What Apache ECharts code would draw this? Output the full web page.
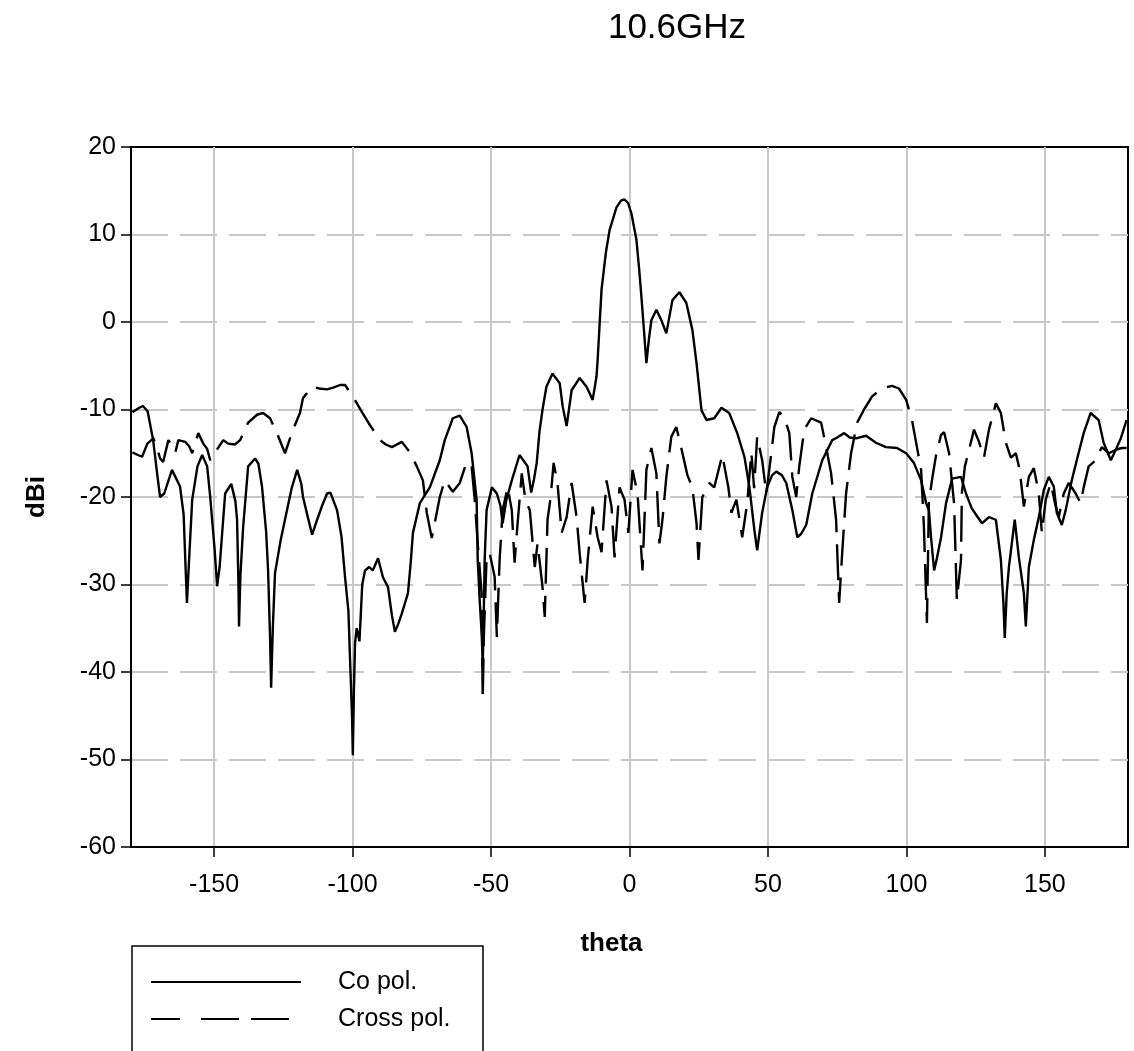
<!DOCTYPE html>
<html>
<head>
<meta charset="utf-8">
<script src="https://cdn.jsdelivr.net/npm/echarts@6/dist/echarts.min.js"></script>
<style>
html,body{margin:0;padding:0;background:#fff;}
#chart{width:1134px;height:1051px;}
</style>
</head>
<body>
<div id="chart"></div>
<script>
// ---- data ----
var xTicks = [-150, -100, -50, 0, 50, 100, 150];

var coTheta = [-179.5,-177,-175.7,-174,-172,-170.5,-169.5,-168,-165.2,-162.3,-161,-160.3,-159.8,-159,-157.9,-156,-154.3,-152.5,-151.4,-149.8,-148.9,-148,-146,-143.8,-142.3,-141.7,-141.2,-141,-140.5,-139.5,-137.7,-135.2,-134,-132.7,-131.2,-130.5,-129.8,-129.4,-128.8,-128,-126,-124.4,-122,-120,-118.5,-117.9,-116,-114.6,-112.8,-111,-109.2,-108,-105.6,-104,-102.7,-101.5,-100.9,-100.2,-99.9,-99.5,-99.1,-98.5,-98.1,-97.5,-96.5,-95.5,-94,-92.7,-90.8,-89,-87.2,-85.8,-84.7,-83.5,-82.2,-80,-79,-78.2,-75.7,-72.1,-68.5,-66.7,-63.8,-61.3,-58.8,-57,-55.2,-54.8,-54.1,-53.3,-53,-52.6,-52.3,-51.6,-49.7,-47.9,-46.6,-45.8,-44.5,-42.5,-39.7,-36.8,-35.5,-34.5,-33.5,-32.5,-31.4,-30,-27.8,-25.2,-24.1,-22.7,-20.9,-18,-15.5,-13.3,-11.9,-11.5,-10.1,-8.5,-7.2,-4.7,-3,-1.8,-0.5,0.7,2.5,3.5,4.3,5.4,6.1,7,7.9,9.7,11.5,13.3,15.5,18,20.5,22.7,24.2,26,27.8,30.6,33.2,36,38.9,41.5,43.3,45.1,46.1,47.9,49.7,51.5,53,55,56.6,58.8,60.6,62,63.8,66,69.6,73.2,75,77.5,79.5,81.8,85.4,89,92.6,96.6,99.9,102.7,105.3,107.1,108.1,109,110,111,112.5,114.3,116.5,119.7,121.5,123.6,125.5,127.3,129.8,132.3,134.1,135,135.5,136.2,137,139.1,140.6,142.4,143.1,144.2,146,147.8,149.6,151.4,153.2,154.3,156.1,157.5,159.7,161.5,164,166.5,169.4,171.2,173.8,175.6,177.4,179.5];
var coPol = [-10.3,-9.8,-9.6,-10.2,-13.5,-17.5,-20,-19.6,-16.9,-18.8,-22,-28,-32.1,-27,-20.3,-16.5,-15.2,-16.5,-20,-26,-30.2,-28,-19.6,-18.5,-20.5,-22.6,-30,-34.8,-29,-23.4,-16.5,-15.6,-16.2,-18.8,-24,-28.4,-36,-41.8,-35,-28.7,-25,-22.6,-19,-16.9,-18.5,-20,-22.5,-24.3,-22.6,-21,-19.6,-19.5,-21.5,-24.5,-29.2,-33,-38.6,-45,-49.5,-42,-36.7,-35,-34.8,-36.5,-30,-28.4,-28,-28.4,-27,-29.2,-30.3,-33.5,-35.4,-34.5,-33.3,-31,-27.5,-24.1,-20.7,-18.9,-15.8,-13.5,-11,-10.7,-12,-15,-20.3,-27.2,-31.8,-36,-39.5,-33,-27.2,-21.5,-18.9,-19.6,-21,-23,-20.4,-18.1,-15.2,-16.5,-19.5,-18,-16.1,-12.5,-10,-7.4,-5.9,-7,-9.7,-11.9,-7.8,-6.4,-7.4,-8.9,-6.2,-4.3,3.7,8,10.5,13.1,13.9,14,13.6,12.4,9.4,6,2.9,-1.7,-4.7,-2,0.2,1.4,0.2,-1.3,2.5,3.4,2.2,-0.9,-4.7,-10.1,-11.2,-11,-9.8,-10.4,-12.7,-15.4,-18.9,-23.8,-26.1,-21.8,-18.9,-17.5,-17.1,-17.5,-18.4,-21.5,-24.6,-24.2,-23.2,-19.6,-15.8,-13.5,-13.2,-12.7,-13.2,-13.3,-13,-13.8,-14.3,-14.4,-15,-16.1,-18.1,-20.7,-21.5,-25,-28.4,-27,-24.6,-20.7,-17.9,-17.7,-19.6,-21.3,-22.2,-23,-22.3,-22.6,-27.2,-32,-36.1,-31,-28,-22.6,-26.9,-31,-34.8,-28,-24.9,-22.3,-19.2,-17.7,-18.8,-21.8,-23.2,-21.5,-18.1,-15.8,-12.7,-10.4,-11.2,-13.8,-15.8,-14.6,-13.3,-11.2];

var crossTheta = [-179.5,-177.5,-176,-174.1,-171.9,-170.5,-169.5,-168.4,-166.5,-165,-164,-162.9,-160.4,-159,-157.9,-155.7,-153.9,-152.5,-151.4,-149.6,-146.7,-144.9,-142.5,-140.6,-137.7,-134.5,-132.3,-129.8,-127.3,-124.4,-121.5,-119,-117.9,-114.6,-112,-109.2,-107,-104.5,-102.7,-99.9,-96.6,-93.7,-90.1,-88,-85.8,-82.2,-79.3,-76.8,-74.6,-73.2,-71.4,-69.6,-68.5,-66.7,-63.8,-61.3,-58.8,-57,-55.9,-54.8,-53.4,-53,-52.6,-51.6,-50.5,-48.7,-47.9,-46.9,-45.8,-44,-42.5,-41.5,-40.4,-38.9,-37.5,-36,-34.2,-33.2,-31.5,-30.6,-29.6,-28.5,-27.4,-26,-24.5,-22.7,-20.9,-19.1,-18,-16.2,-15.1,-13.3,-11.5,-10.1,-8.3,-6.5,-5.4,-3.6,-1.8,-0.4,1.1,2.9,4.7,6.1,7.9,9.7,10.8,11.9,13.3,15.1,16.9,18.7,20.9,22.7,24.2,24.9,26.3,28.8,30.6,33.5,35.7,36.8,38.6,40.7,42.5,44,45,46.1,47.9,49.4,51.2,52.3,54.1,55.9,57.7,58.8,60.2,61.3,63.1,65.6,69.2,71,72.8,74.6,75.7,76.8,78.2,80,82.2,84.7,87.6,91.2,94.8,97.3,99.9,102,103.8,105.3,106.3,107.4,108.1,109.2,110.7,112.5,113.6,115.4,117.2,118.2,119.7,120,121.1,122.6,124.4,126.2,128,129.8,132.3,134.1,135.9,137.7,139.5,140.9,142.4,144.2,146,147.8,148.9,150.3,152.1,153.9,155,156.8,158.6,161.1,162.9,164,165.8,168.4,170.5,173.1,175.6,177.8,179.5];
var crossPol = [-14.9,-15.2,-15.4,-13.9,-13.3,-14.5,-15.6,-16,-13.5,-14.2,-14.9,-13.5,-13.7,-14.2,-15,-12.7,-13.9,-14.5,-15.8,-14.9,-13.5,-13.9,-14,-13.5,-11.5,-10.6,-10.4,-11,-12.7,-15,-12.3,-10.4,-8.7,-7.4,-7.6,-7.7,-7.5,-7.2,-7.2,-8.5,-10.3,-11.8,-13.5,-14,-14.3,-13.7,-14.9,-16.5,-18.1,-21.8,-24.7,-21.8,-20,-18.1,-19.4,-18.4,-16,-16.5,-20.3,-25.3,-31,-43.2,-36,-26.9,-26.4,-29.1,-36,-27.2,-21.5,-18.9,-21.5,-27.5,-23,-17.3,-20.5,-21.5,-28,-25.3,-30,-33.7,-22.6,-20.1,-16.1,-18.4,-24.1,-22.3,-18.4,-22.3,-26.4,-32.1,-27.2,-21.1,-24.6,-26.3,-18.1,-21.1,-26.9,-18.9,-20.3,-24.1,-16.9,-19.6,-28.4,-16.9,-14.4,-17.3,-25.3,-22.6,-17.7,-13.1,-12,-14.4,-17.5,-18.9,-23,-27.2,-20,-18.4,-18.9,-15.2,-18.9,-21.8,-20.3,-24.6,-20.7,-14.9,-19,-13.1,-15.8,-19.6,-15,-12,-10.3,-10.9,-12.7,-17.7,-20,-16.5,-12.3,-11,-11.5,-14.3,-17.3,-22.6,-32.1,-26.4,-19.6,-15,-11.5,-10,-8.5,-7.6,-7.3,-7.6,-8.9,-11.2,-14.3,-16.9,-23.4,-34.4,-20.7,-18.1,-15.2,-12.9,-12.6,-15,-20.7,-31.8,-27.2,-19.6,-16.5,-14.6,-12.3,-13.7,-15.5,-12.3,-9.3,-10.4,-13.8,-15.5,-15,-16.9,-21.1,-17.7,-16.7,-19.6,-24.1,-20.3,-18.4,-21.1,-22.3,-19.6,-18.4,-19.6,-20.7,-18.9,-16.5,-15.8,-14.3,-15,-14.6,-14.4,-14.4];

var seriesNames = ['Co pol.', 'Cross pol.'];

function pairs(xs, ys) { return xs.map(function (x, i) { return [x, ys[i]]; }); }

var FONT = '"Liberation Sans", Arial, sans-serif';
var chart = echarts.init(document.getElementById('chart'), null, { renderer: 'canvas' });
chart.setOption({
  animation: false,
  backgroundColor: '#ffffff',
  title: {
    text: '10.6GHz',
    left: 677, top: 11, textAlign: 'center', padding: 0,
    textStyle: { fontFamily: FONT, fontSize: 35, fontWeight: 'normal', color: '#000' }
  },
  grid: {
    left: 131, right: 6, top: 147, bottom: 204,
    show: true, borderColor: '#000', borderWidth: 2, backgroundColor: 'transparent'
  },
  legend: {
    data: [
      { name: seriesNames[0] },
      { name: seriesNames[1], lineStyle: { type: [29, 21, 38, 12, 38, 200] } }
    ],
    orient: 'vertical',
    left: 150, top: 969,
    itemWidth: 150, itemHeight: 26, itemGap: 11,
    padding: 0,
    itemStyle: { color: 'rgba(0,0,0,0)', borderWidth: 0, opacity: 0 },
    textStyle: { fontFamily: FONT, fontSize: 25, color: '#000', padding: [0, 0, 0, 32], lineHeight: 26 }
  },
  graphic: [{
    type: 'rect', silent: true,
    shape: { x: 132, y: 946, width: 351, height: 200 },
    style: { fill: null, stroke: '#000', lineWidth: 1.5 }
  }],
  xAxis: {
    type: 'value', min: -180, max: 180, splitNumber: 7,
    name: 'theta', nameLocation: 'middle', nameGap: 84,
    nameTextStyle: { fontFamily: FONT, fontSize: 26, fontWeight: 'bold', color: '#000', padding: [0, 36, 0, 0] },
    axisLine: { show: true, onZero: false, lineStyle: { color: '#000', width: 2 } },
    axisTick: { show: true, inside: false, length: 10, customValues: xTicks, lineStyle: { color: '#000', width: 1.5 } },
    axisLabel: { customValues: xTicks, margin: 26, fontFamily: FONT, fontSize: 25, color: '#000' },
    splitLine: { show: true, lineStyle: { color: '#c8c8c8', width: 2, type: 'solid' } }
  },
  yAxis: {
    type: 'value', min: -60, max: 20, interval: 10,
    name: 'dBi', nameLocation: 'middle', nameGap: 81, nameRotate: 90,
    nameTextStyle: { fontFamily: FONT, fontSize: 26, fontWeight: 'bold', color: '#000' },
    axisLine: { show: true, onZero: false, lineStyle: { color: '#000', width: 2 } },
    axisTick: { show: true, inside: false, length: 10, lineStyle: { color: '#000', width: 1.5 } },
    axisLabel: { margin: 15, fontFamily: FONT, fontSize: 25, color: '#000' },
    splitLine: { show: true, showMinLine: false, showMaxLine: false, lineStyle: { color: '#c8c8c8', width: 2, type: [37, 12] } }
  },
  series: [{
    name: seriesNames[0], type: 'line', data: pairs(coTheta, coPol),
    symbol: 'none', showSymbol: false, smooth: false,
    lineStyle: { color: '#000', width: 2.4, type: 'solid' }, itemStyle: { color: '#000' }, z: 3
  }, {
    name: seriesNames[1], type: 'line', data: pairs(crossTheta, crossPol),
    symbol: 'none', showSymbol: false, smooth: false,
    lineStyle: { color: '#000', width: 2.4, type: [36, 12] }, itemStyle: { color: '#000' }, z: 2
  }]
});
</script>
</body>
</html>
